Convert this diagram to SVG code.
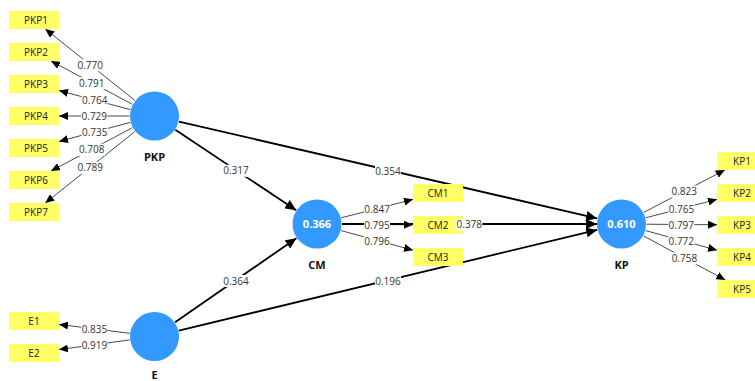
<svg xmlns="http://www.w3.org/2000/svg" width="755" height="381" viewBox="0 0 755 381">
  <style>
    .load { stroke: #4a4a4a; stroke-width: 1; fill: none; marker-end: url(#aSmall); }
    .path { stroke: #000; stroke-width: 1.8; fill: none; marker-end: url(#aBig); }
    .lv { fill: #3399ff; }
    .ind { fill: #ffff66; }
    .ind-t { font-family: "Open Sans", "Noto Sans", sans-serif; font-size: 10px; fill: #222; text-anchor: middle; }
    .lv-name { font-family: "Open Sans", "Noto Sans", sans-serif; font-size: 11px; font-weight: bold; fill: #111; text-anchor: middle; }
    .lv-val { font-family: "Open Sans", "Noto Sans", sans-serif; font-size: 11px; font-weight: bold; fill: #fff; text-anchor: middle; }
    .lbl-bg { fill: #fff; }
    .lbl { font-family: "Open Sans", "Noto Sans", sans-serif; font-size: 10px; fill: #333; text-anchor: middle; }
  </style>
  <defs>
    <marker id="aSmall" markerUnits="userSpaceOnUse" markerWidth="10" markerHeight="8" refX="9" refY="4" orient="auto">
      <path d="M0,0 L9,4 L0,8 Z" fill="#000"/>
    </marker>
    <marker id="aBig" markerUnits="userSpaceOnUse" markerWidth="12" markerHeight="10" refX="11" refY="5" orient="auto">
      <path d="M0,0 L11,5 L0,10 Z" fill="#000"/>
    </marker>
  </defs>
  <rect width="755" height="381" fill="#fff"/>

  <!-- connectors: outer loadings and structural paths -->
  <g id="connectors">
    <line class="load" x1="134.9" y1="100.4" x2="45.3" y2="29"/>
    <line class="load" x1="132.4" y1="104.3" x2="51" y2="61"/>
    <line class="load" x1="130.3" y1="109.6" x2="59" y2="90.6"/>
    <line class="load" x1="129.5" y1="116" x2="59" y2="116"/>
    <line class="load" x1="130.3" y1="122.4" x2="59" y2="141.4"/>
    <line class="load" x1="132.4" y1="127.7" x2="51" y2="171"/>
    <line class="load" x1="134.9" y1="131.6" x2="45.3" y2="203"/>
    <line class="load" x1="129.7" y1="333.3" x2="59" y2="324.4"/>
    <line class="load" x1="129.7" y1="339.9" x2="59" y2="349.6"/>
    <line class="load" x1="341.2" y1="217.8" x2="413" y2="199.4"/>
    <line class="load" x1="342" y1="224.2" x2="413" y2="224.8"/>
    <line class="load" x1="341.1" y1="230.6" x2="413" y2="250.2"/>
    <line class="load" x1="643.7" y1="212.4" x2="724.8" y2="170"/>
    <line class="load" x1="645.7" y1="217.8" x2="717" y2="199.4"/>
    <line class="load" x1="646.5" y1="224.2" x2="717" y2="224.8"/>
    <line class="load" x1="645.6" y1="230.6" x2="717" y2="250.2"/>
    <line class="load" x1="643.5" y1="235.9" x2="725.3" y2="280"/>
    <line class="path" x1="175.3" y1="129.8" x2="296.2" y2="210.2"/>
    <line class="path" x1="178.9" y1="121.6" x2="597.1" y2="218.4"/>
    <line class="path" x1="175.1" y1="322.3" x2="296.4" y2="238.2"/>
    <line class="path" x1="178.8" y1="330.6" x2="597.2" y2="229.9"/>
    <line class="path" x1="342" y1="224" x2="597" y2="224"/>
  </g>

  <!-- latent variables -->
  <g id="PKP">
    <circle class="lv" cx="154.5" cy="116" r="24.5"/>
    <text class="lv-name" x="154.5" y="161">PKP</text>
  </g>
  <g id="E">
    <circle class="lv" cx="154.5" cy="336.5" r="24.5"/>
    <text class="lv-name" x="154.5" y="379">E</text>
  </g>
  <g id="CM">
    <circle class="lv" cx="317" cy="224" r="24.5"/>
    <text class="lv-val" x="317" y="228">0.366</text>
    <text class="lv-name" x="317" y="269">CM</text>
  </g>
  <g id="KP">
    <circle class="lv" cx="621.5" cy="224" r="24.5"/>
    <text class="lv-val" x="621.5" y="228">0.610</text>
    <text class="lv-name" x="621.5" y="269">KP</text>
  </g>

  <!-- indicators -->
  <g id="PKP1"><rect class="ind" x="9" y="11" width="50" height="18"/><text class="ind-t" x="36" y="23.5">PKP1</text></g>
  <g id="PKP2"><rect class="ind" x="9" y="43" width="50" height="18"/><text class="ind-t" x="36" y="55.5">PKP2</text></g>
  <g id="PKP3"><rect class="ind" x="9" y="75" width="50" height="18"/><text class="ind-t" x="36" y="87.5">PKP3</text></g>
  <g id="PKP4"><rect class="ind" x="9" y="107" width="50" height="18"/><text class="ind-t" x="36" y="119.5">PKP4</text></g>
  <g id="PKP5"><rect class="ind" x="9" y="139" width="50" height="18"/><text class="ind-t" x="36" y="151.5">PKP5</text></g>
  <g id="PKP6"><rect class="ind" x="9" y="171" width="50" height="18"/><text class="ind-t" x="36" y="183.5">PKP6</text></g>
  <g id="PKP7"><rect class="ind" x="9" y="203" width="50" height="18"/><text class="ind-t" x="36" y="215.5">PKP7</text></g>
  <g id="E1"><rect class="ind" x="9" y="312" width="50" height="18"/><text class="ind-t" x="34" y="324.5">E1</text></g>
  <g id="E2"><rect class="ind" x="9" y="344" width="50" height="18"/><text class="ind-t" x="34" y="356.5">E2</text></g>
  <g id="CM1"><rect class="ind" x="413" y="184" width="50" height="18"/><text class="ind-t" x="438" y="196.5">CM1</text></g>
  <g id="CM2"><rect class="ind" x="413" y="216" width="50" height="18"/><text class="ind-t" x="438" y="228.5">CM2</text></g>
  <g id="CM3"><rect class="ind" x="413" y="248" width="50" height="18"/><text class="ind-t" x="438" y="260.5">CM3</text></g>
  <g id="KP1"><rect class="ind" x="717" y="152" width="50" height="18"/><text class="ind-t" x="742" y="164.5">KP1</text></g>
  <g id="KP2"><rect class="ind" x="717" y="184" width="50" height="18"/><text class="ind-t" x="742" y="196.5">KP2</text></g>
  <g id="KP3"><rect class="ind" x="717" y="216" width="50" height="18"/><text class="ind-t" x="742" y="228.5">KP3</text></g>
  <g id="KP4"><rect class="ind" x="717" y="248" width="50" height="18"/><text class="ind-t" x="742" y="260.5">KP4</text></g>
  <g id="KP5"><rect class="ind" x="717" y="280" width="50" height="18"/><text class="ind-t" x="742" y="292.5">KP5</text></g>

  <!-- connector weights -->
  <g id="connector-labels">
    <g transform="translate(90.2,65.2)"><rect class="lbl-bg" x="-13" y="-6" width="26" height="12"/><text class="lbl" y="3.6">0.770</text></g>
    <g transform="translate(91.7,83.2)"><rect class="lbl-bg" x="-13" y="-6" width="26" height="12"/><text class="lbl" y="3.6">0.791</text></g>
    <g transform="translate(94.7,100.6)"><rect class="lbl-bg" x="-13" y="-6" width="26" height="12"/><text class="lbl" y="3.6">0.764</text></g>
    <g transform="translate(94.3,116.5)"><rect class="lbl-bg" x="-13" y="-6" width="26" height="12"/><text class="lbl" y="3.6">0.729</text></g>
    <g transform="translate(94.7,132.4)"><rect class="lbl-bg" x="-13" y="-6" width="26" height="12"/><text class="lbl" y="3.6">0.735</text></g>
    <g transform="translate(91.7,149.8)"><rect class="lbl-bg" x="-13" y="-6" width="26" height="12"/><text class="lbl" y="3.6">0.708</text></g>
    <g transform="translate(90.2,167.8)"><rect class="lbl-bg" x="-13" y="-6" width="26" height="12"/><text class="lbl" y="3.6">0.789</text></g>
    <g transform="translate(94.4,329.3)"><rect class="lbl-bg" x="-13" y="-6" width="26" height="12"/><text class="lbl" y="3.6">0.835</text></g>
    <g transform="translate(94.4,345.2)"><rect class="lbl-bg" x="-13" y="-6" width="26" height="12"/><text class="lbl" y="3.6">0.919</text></g>
    <g transform="translate(377.1,209.1)"><rect class="lbl-bg" x="-13" y="-6" width="26" height="12"/><text class="lbl" y="3.6">0.847</text></g>
    <g transform="translate(377,225)"><rect class="lbl-bg" x="-13" y="-6" width="26" height="12"/><text class="lbl" y="3.6">0.795</text></g>
    <g transform="translate(377,240.9)"><rect class="lbl-bg" x="-13" y="-6" width="26" height="12"/><text class="lbl" y="3.6">0.796</text></g>
    <g transform="translate(684.2,191.7)"><rect class="lbl-bg" x="-13" y="-6" width="26" height="12"/><text class="lbl" y="3.6">0.823</text></g>
    <g transform="translate(681.4,209.1)"><rect class="lbl-bg" x="-13" y="-6" width="26" height="12"/><text class="lbl" y="3.6">0.765</text></g>
    <g transform="translate(681.3,225)"><rect class="lbl-bg" x="-13" y="-6" width="26" height="12"/><text class="lbl" y="3.6">0.797</text></g>
    <g transform="translate(681.3,240.9)"><rect class="lbl-bg" x="-13" y="-6" width="26" height="12"/><text class="lbl" y="3.6">0.772</text></g>
    <g transform="translate(684.4,258.4)"><rect class="lbl-bg" x="-13" y="-6" width="26" height="12"/><text class="lbl" y="3.6">0.758</text></g>
    <g transform="translate(236,170.8)"><rect class="lbl-bg" x="-13" y="-6" width="26" height="12"/><text class="lbl" y="3.6">0.317</text></g>
    <g transform="translate(388,171)"><rect class="lbl-bg" x="-13" y="-6" width="26" height="12"/><text class="lbl" y="3.6">0.354</text></g>
    <g transform="translate(236,281)"><rect class="lbl-bg" x="-13" y="-6" width="26" height="12"/><text class="lbl" y="3.6">0.364</text></g>
    <g transform="translate(388,281)"><rect class="lbl-bg" x="-13" y="-6" width="26" height="12"/><text class="lbl" y="3.6">0.196</text></g>
    <g transform="translate(469.3,224.8)"><rect class="lbl-bg" x="-13" y="-6" width="26" height="12"/><text class="lbl" y="3.6">0.378</text></g>
  </g>
</svg>
